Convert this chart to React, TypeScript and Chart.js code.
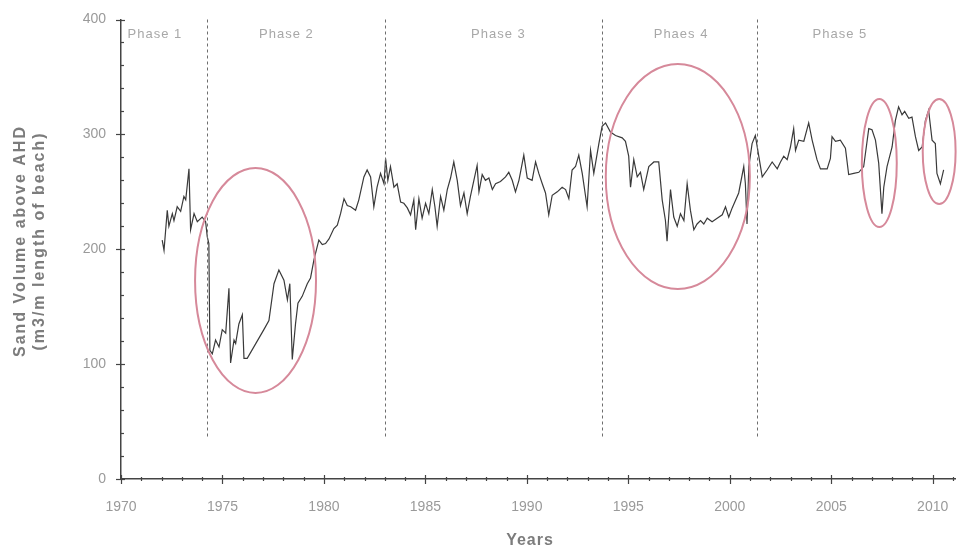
import React, { useEffect, useRef } from "react";
import { Chart, registerables } from "chart.js";

Chart.register(...registerables);

// ---- data ----
const years = [
  1972.03, 1972.12, 1972.28, 1972.36, 1972.53, 1972.61, 1972.77, 1972.94, 1973.1, 1973.19,
  1973.35, 1973.43, 1973.6, 1973.76, 1974.0, 1974.17, 1974.25, 1974.33, 1974.38, 1974.5,
  1974.66, 1974.83, 1974.99, 1975.16, 1975.32, 1975.4, 1975.57, 1975.65, 1975.81, 1975.98,
  1976.06, 1976.22, 1977.04, 1977.29, 1977.54, 1977.78, 1978.03, 1978.2, 1978.32, 1978.44,
  1978.6, 1978.72, 1978.93, 1979.18, 1979.34, 1979.51, 1979.75, 1979.92, 1980.08, 1980.25,
  1980.49, 1980.66, 1980.82, 1980.99, 1981.15, 1981.32, 1981.56, 1981.72, 1981.97, 1982.13,
  1982.3, 1982.46, 1982.62, 1982.79, 1982.96, 1983.04, 1983.15, 1983.28, 1983.45, 1983.61,
  1983.78, 1983.94, 1984.11, 1984.27, 1984.43, 1984.52, 1984.68, 1984.84, 1985.01, 1985.17,
  1985.34, 1985.47, 1985.58, 1985.75, 1985.91, 1986.08, 1986.24, 1986.4, 1986.57, 1986.73,
  1986.9, 1987.06, 1987.22, 1987.39, 1987.55, 1987.64, 1987.8, 1987.96, 1988.13, 1988.3,
  1988.46, 1988.7, 1988.95, 1989.11, 1989.28, 1989.44, 1989.61, 1989.85, 1990.02, 1990.26,
  1990.43, 1990.59, 1990.76, 1990.92, 1991.08, 1991.25, 1991.5, 1991.74, 1991.91, 1992.07,
  1992.23, 1992.4, 1992.56, 1992.73, 1992.97, 1993.14, 1993.3, 1993.55, 1993.71, 1993.88,
  1994.12, 1994.37, 1994.7, 1994.86, 1995.02, 1995.11, 1995.27, 1995.44, 1995.6, 1995.76,
  1996.01, 1996.26, 1996.5, 1996.67, 1996.83, 1996.91, 1997.08, 1997.24, 1997.41, 1997.57,
  1997.74, 1997.9, 1998.06, 1998.23, 1998.39, 1998.56, 1998.72, 1998.89, 1999.13, 1999.38,
  1999.63, 1999.79, 1999.95, 2000.12, 2000.44, 2000.69, 2000.77, 2000.85, 2000.94, 2001.1,
  2001.26, 2001.43, 2001.6, 2001.84, 2002.09, 2002.34, 2002.5, 2002.66, 2002.83, 2002.99,
  2003.15, 2003.24, 2003.4, 2003.65, 2003.89, 2004.06, 2004.3, 2004.47, 2004.8, 2004.96,
  2005.04, 2005.21, 2005.45, 2005.7, 2005.86, 2006.11, 2006.36, 2006.6, 2006.85, 2007.01,
  2007.18, 2007.34, 2007.5, 2007.59, 2007.75, 2008.0, 2008.16, 2008.32, 2008.49, 2008.62,
  2008.82, 2008.98, 2009.15, 2009.31, 2009.48, 2009.64, 2009.8, 2009.97, 2010.13, 2010.21,
  2010.38, 2010.54,
];
const volumes = [
  208, 199, 234, 220, 231, 225, 237, 233, 246, 243,
  270, 217, 231, 224, 228, 224, 211, 205, 112, 109,
  121, 115, 130, 127, 166, 101, 121, 118, 135, 143,
  105, 105, 130, 138, 170, 182, 173, 156, 170, 104,
  135, 153, 159, 170, 175, 191, 208, 204, 205, 209,
  218, 221, 231, 244, 238, 237, 234, 243, 263, 269,
  263, 237, 254, 266, 257, 279, 260, 272, 254, 257,
  241, 240, 236, 230, 243, 217, 244, 227, 240, 231,
  252, 237, 220, 246, 234, 252, 262, 276, 260, 238,
  249, 231, 246, 260, 273, 250, 265, 260, 262, 252,
  257, 259, 263, 267, 260, 250, 260, 282, 262, 260,
  276, 266, 257, 249, 230, 247, 250, 254, 252, 244,
  269, 272, 282, 266, 237, 286, 266, 292, 307, 310,
  302, 299, 297, 294, 281, 254, 278, 263, 267, 252,
  272, 276, 276, 243, 225, 207, 252, 228, 220, 231,
  225, 257, 234, 217, 222, 225, 222, 227, 224, 227,
  230, 237, 228, 236, 249, 272, 257, 222, 272, 292,
  299, 281, 263, 269, 276, 270, 276, 281, 278, 289,
  305, 286, 295, 294, 310, 295, 278, 270, 270, 279,
  298, 294, 295, 288, 265, 266, 267, 272, 305, 304,
  295, 275, 231, 254, 272, 289, 312, 324, 317, 320,
  314, 315, 298, 286, 289, 312, 321, 295, 292, 266,
  257, 269,
];

const xTickValues = [1970, 1975, 1980, 1985, 1990, 1995, 2000, 2005, 2010];
const yTickValues = [0, 100, 200, 300, 400];

const phaseLines = [1974.25, 1983.02, 1993.7, 2001.35];
const phaseLineFrom = 37;
const phaseLineTo = 400;
const phaseNames = ["Phase 1", "Phase 2", "Phase 3", "Phaes 4", "Phase 5"];
const phaseLabelX = [1971.67, 1978.15, 1988.6, 1997.6, 2005.43];
const phaseLabelY = 387;

const circleCx = [1976.63, 1997.44, 2007.37, 2010.32];
const circleCy = [172.8, 263.3, 275, 285];
const circleRx = [2.98, 3.55, 0.86, 0.81];
const circleRy = [97.9, 97.9, 55.7, 45.7];

const yTitleLines = ["Sand Volume above AHD", "(m3/m length of beach)"];
const xTitle = "Years";

const FONT = "'Liberation Sans', Arial, sans-serif";

const decorPlugin = {
  id: "decor",
  afterDatasetsDraw(chart: any) {
    const ctx = chart.ctx as CanvasRenderingContext2D;
    const xs = chart.scales.x;
    const ys = chart.scales.y;
    ctx.save();
    // phase separators
    ctx.strokeStyle = "#6e6e6e";
    ctx.lineWidth = 1;
    ctx.setLineDash([3, 3]);
    phaseLines.forEach((v) => {
      const px = Math.round(xs.getPixelForValue(v)) + 0.5;
      ctx.beginPath();
      ctx.moveTo(px, ys.getPixelForValue(phaseLineTo));
      ctx.lineTo(px, ys.getPixelForValue(phaseLineFrom));
      ctx.stroke();
    });
    ctx.setLineDash([]);
    // phase labels
    ctx.fillStyle = "#a8a8a8";
    ctx.font = `13px ${FONT}`;
    (ctx as any).letterSpacing = "1px";
    ctx.textAlign = "center";
    ctx.textBaseline = "middle";
    phaseNames.forEach((n, i) => {
      ctx.fillText(n, xs.getPixelForValue(phaseLabelX[i]), ys.getPixelForValue(phaseLabelY));
    });
    // ellipses
    ctx.strokeStyle = "#d6899a";
    ctx.lineWidth = 2;
    circleCx.forEach((cx, i) => {
      const px = xs.getPixelForValue(cx);
      const py = ys.getPixelForValue(circleCy[i]);
      const rx = Math.abs(xs.getPixelForValue(cx + circleRx[i]) - px);
      const ry = Math.abs(ys.getPixelForValue(circleCy[i] + circleRy[i]) - py);
      ctx.beginPath();
      ctx.ellipse(px, py, rx, ry, 0, 0, Math.PI * 2);
      ctx.stroke();
    });
    ctx.restore();
  },
  afterDraw(chart: any) {
    const ctx = chart.ctx as CanvasRenderingContext2D;
    const xs = chart.scales.x;
    const ys = chart.scales.y;
    const area = chart.chartArea;
    ctx.save();
    ctx.strokeStyle = "#444";
    ctx.lineWidth = 1.2;
    // x ticks
    for (let v = 1970; v <= 2011; v++) {
      const px = Math.round(xs.getPixelForValue(v)) + 0.5;
      const major = v % 5 === 0;
      ctx.beginPath();
      ctx.moveTo(px, area.bottom - (major ? 4 : 2));
      ctx.lineTo(px, area.bottom + (major ? 5 : 2));
      ctx.stroke();
    }
    // y ticks
    for (let v = 0; v <= 400; v += 20) {
      const py = Math.round(ys.getPixelForValue(v)) + 0.5;
      const major = v % 100 === 0;
      ctx.beginPath();
      ctx.moveTo(area.left - (major ? 5 : 1), py);
      ctx.lineTo(area.left + (major ? 4 : 3), py);
      ctx.stroke();
    }
    // titles
    ctx.fillStyle = "#7c7c7c";
    ctx.font = `bold 16px ${FONT}`;
    ctx.textAlign = "center";
    ctx.textBaseline = "middle";
    (ctx as any).letterSpacing = "2px";
    const colX = [21, 40];
    yTitleLines.forEach((t, i) => {
      ctx.save();
      ctx.translate(colX[i], 241);
      ctx.rotate(-Math.PI / 2);
      ctx.fillText(t, 0, 0);
      ctx.restore();
    });
    (ctx as any).letterSpacing = "1px";
    ctx.fillText(xTitle, 530, 541);
    ctx.restore();
  },
};

export default function App() {
  const ref = useRef<HTMLCanvasElement | null>(null);
  useEffect(() => {
    if (!ref.current) return;
    const points = years.map((y, i) => ({ x: y, y: volumes[i] }));
    const chart = new Chart(ref.current, {
      type: "line",
      data: {
        datasets: [
          {
            data: points,
            borderColor: "#3a3a3a",
            borderWidth: 1.2,
            pointRadius: 0,
            tension: 0,
            fill: false,
          },
        ],
      },
      options: {
        animation: false,
        responsive: true,
        maintainAspectRatio: false,
        layout: { padding: { top: 19.5, right: 2, left: 0, bottom: 0 } },
        plugins: { legend: { display: false }, tooltip: { enabled: false } },
        scales: {
          x: {
            type: "linear",
            min: 1970,
            max: 2011.1,
            afterBuildTicks: (s: any) => {
              s.ticks = xTickValues.map((v) => ({ value: v }));
            },
            afterFit: (s: any) => {
              s.height = 77;
              s.paddingLeft = 0;
              s.paddingRight = 0;
            },
            grid: { display: false, drawTicks: false },
            border: { display: true, color: "#444", width: 1.5 },
            ticks: {
              padding: 20,
              color: "#9a9a9a",
              font: { family: FONT, size: 14 },
              maxRotation: 0,
              autoSkip: false,
              callback: (v: any) => String(v),
            },
          },
          y: {
            min: 0,
            max: 400,
            afterBuildTicks: (s: any) => {
              s.ticks = yTickValues.map((v) => ({ value: v }));
            },
            afterFit: (s: any) => {
              s.width = 121;
              s.paddingTop = 0;
              s.paddingBottom = 0;
            },
            grid: { display: false, drawTicks: false },
            border: { display: true, color: "#444", width: 1.5 },
            ticks: {
              padding: 15,
              color: "#9a9a9a",
              font: { family: FONT, size: 14 },
              callback: (v: any) => String(v),
            },
          },
        },
      },
      plugins: [decorPlugin],
    });
    return () => chart.destroy();
  }, []);
  return (
    <div style={{ position: "fixed", left: 0, top: 0, width: 957, height: 556, background: "#fff" }}>
      <canvas ref={ref} />
    </div>
  );
}
